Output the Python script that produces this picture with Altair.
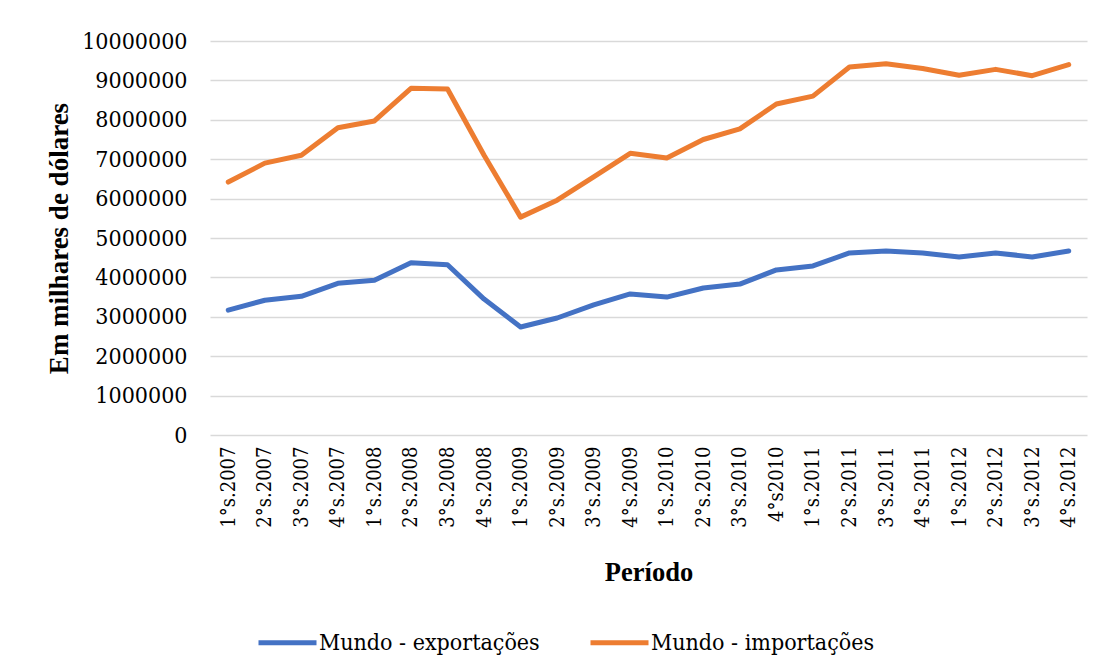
import altair as alt
import pandas as pd

periods = ["1°s.2007", "2°s.2007", "3°s.2007", "4°s.2007",
           "1°s.2008", "2°s.2008", "3°s.2008", "4°s.2008",
           "1°s.2009", "2°s.2009", "3°s.2009", "4°s.2009",
           "1°s.2010", "2°s.2010", "3°s.2010", "4°s2010",
           "1°s.2011", "2°s.2011", "3°s.2011", "4°s.2011",
           "1°s.2012", "2°s.2012", "3°s.2012", "4°s.2012"]

exportacoes = [3170000, 3420000, 3520000, 3850000,
               3930000, 4370000, 4320000, 3450000,
               2740000, 2970000, 3300000, 3580000,
               3500000, 3730000, 3830000, 4190000,
               4290000, 4620000, 4670000, 4620000,
               4520000, 4620000, 4520000, 4670000]

importacoes = [6420000, 6900000, 7100000, 7800000,
               7970000, 8800000, 8780000, 7100000,
               5530000, 5960000, 6550000, 7150000,
               7030000, 7500000, 7770000, 8400000,
               8600000, 9340000, 9420000, 9300000,
               9130000, 9280000, 9120000, 9400000]

series_names = ["Mundo - exportações", "Mundo - importações"]
series_colors = ["#4472C4", "#ED7D31"]
y_ticks = list(range(0, 10000001, 1000000))

rows = []
for p, e, i in zip(periods, exportacoes, importacoes):
    rows.append({"Período": p, "valor": e, "serie": series_names[0]})
    rows.append({"Período": p, "valor": i, "serie": series_names[1]})
df = pd.DataFrame(rows)

TITLE_FONT = "Liberation Serif"
TEXT_FONT = "DejaVu Serif Condensed, DejaVu Serif"

chart = alt.Chart(df).mark_line(strokeWidth=5, strokeCap="round", strokeJoin="round").encode(
    x=alt.X("Período:N", sort=periods,
            scale=alt.Scale(type="point", padding=0.5),
            axis=alt.Axis(title="Período", labelAngle=270, labelPadding=11,
                          ticks=False, domain=False, grid=False,
                          labelFont=TEXT_FONT, labelFontSize=20, labelColor="#000000",
                          titleFont=TITLE_FONT, titleFontSize=26.5, titleFontWeight="bold",
                          titleColor="#000000", titlePadding=32)),
    y=alt.Y("valor:Q",
            scale=alt.Scale(domain=[0, 10000000], nice=False),
            axis=alt.Axis(title="Em milhares de dólares", values=y_ticks, format="d",
                          ticks=False, domain=False, grid=True,
                          gridColor="#D9D9D9", gridWidth=1.5,
                          labelPadding=23, labelFont=TEXT_FONT, labelFontSize=23,
                          labelColor="#000000",
                          titleFont=TITLE_FONT, titleFontSize=27, titleFontWeight="bold",
                          titleColor="#000000", titlePadding=8)),
    color=alt.Color("serie:N",
                    scale=alt.Scale(domain=series_names, range=series_colors),
                    legend=alt.Legend(title=None, orient="none", direction="horizontal",
                                      legendX=46, legendY=570,
                                      symbolType="stroke", symbolSize=3364,
                                      symbolStrokeWidth=5, labelLimit=0,
                                      labelFont=TEXT_FONT, labelFontSize=23, labelColor="#000000",
                                      labelOffset=0, columnPadding=40)),
).properties(
    width=877, height=394,
    autosize=alt.AutoSizeParams(type="none"),
    padding={"left": 202, "top": 33, "right": 7, "bottom": 228},
).configure(background="#FFFFFF"
).configure_view(stroke=None)

chart.save("out.html", embed_options={"renderer": "svg", "actions": False})
